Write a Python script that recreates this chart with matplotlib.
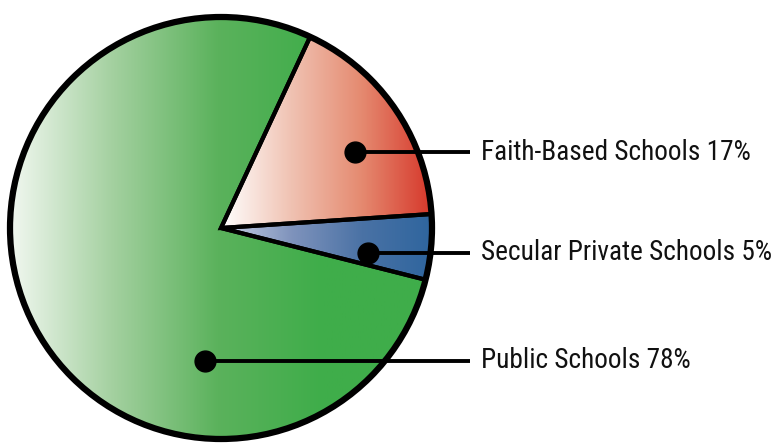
import numpy as np
import matplotlib
matplotlib.use("Agg")
import matplotlib.pyplot as plt
from matplotlib.colors import LinearSegmentedColormap
from matplotlib import font_manager
from matplotlib.font_manager import FontProperties

categories = ["Faith-Based Schools", "Secular Private Schools", "Public Schools"]
values = [17, 5, 78]

# gradient colours (left -> right) per slice
grad_colors = [
    ["#ffffff", "#f0c2b2", "#e58a70", "#d6372a"],
    ["#c9d1e6", "#7f93bc", "#4a72a5", "#2e659e"],
    ["#f2f8f1", "#a3d09f", "#5bb25c", "#3fad4a", "#3fad4a"],
]


def pick_condensed_font():
    prefs = ["Roboto Condensed", "Liberation Sans Narrow", "Archivo Narrow",
             "Fira Sans Condensed", "IBM Plex Sans Condensed", "Barlow Condensed",
             "Noto Sans", "Open Sans", "DejaVu Sans"]
    cands = []
    for f in font_manager.fontManager.ttflist:
        st = str(f.stretch)
        if st in ("condensed", "semi-condensed", "semi-expanded") or "Condensed" in f.name or "Narrow" in f.name:
            if f.style == "normal" and f.weight in (400, "normal", "regular"):
                cands.append(f)
    for p in prefs:
        for f in cands:
            if f.name == p and ("condensed" in str(f.stretch) or "Condensed" in f.name or "Narrow" in f.name):
                return FontProperties(fname=f.fname)
    for f in cands:
        if "Sans" in f.name:
            return FontProperties(fname=f.fname)
    if cands:
        return FontProperties(fname=cands[0].fname)
    return FontProperties(family="DejaVu Sans")


fp = pick_condensed_font()

W, H = 778, 445
fig = plt.figure(figsize=(W / 100, H / 100), dpi=100)
ax = fig.add_axes([0, 0, 1, 1])
ax.set_xlim(0, W)
ax.set_ylim(0, H)

cx, cy, R = 221, 445 - 228, 211

wedges, _ = ax.pie(values, center=(cx, cy), radius=R, startangle=65,
                   counterclock=False,
                   wedgeprops=dict(facecolor="none", edgecolor="black",
                                   linewidth=3.0, joinstyle="miter"))
ax.set_xlim(0, W)
ax.set_ylim(0, H)
ax.set_aspect("auto")

for w, cols in zip(wedges, grad_colors):
    path = w.get_path()
    verts = w.get_transform().transform(path.vertices)
    verts = ax.transData.inverted().transform(verts)
    x0, x1 = verts[:, 0].min(), verts[:, 0].max()
    y0, y1 = verts[:, 1].min(), verts[:, 1].max()
    cmap = LinearSegmentedColormap.from_list("g", cols)
    grad = np.linspace(0, 1, 256).reshape(1, -1)
    im = ax.imshow(grad, cmap=cmap, extent=(x0, x1, y0, y1), origin="lower",
                   aspect="auto", zorder=0.5, interpolation="bilinear")
    im.set_clip_path(w)
    w.set_zorder(2)

circle = plt.Circle((cx, cy), R, facecolor="none", edgecolor="black",
                    linewidth=4.5, zorder=3)
ax.add_patch(circle)

# label anchors (pixel positions)
dots = [(355, 152), (368, 253), (205, 361)]
line_end = 470
text_x = 481

texts = []
for (px, py), name, v in zip(dots, categories, values):
    y = H - py
    ax.plot([px, line_end], [y, y], color="black", lw=2.8, zorder=4,
            solid_capstyle="butt")
    ax.plot([px], [y], marker="o", markersize=15, color="black", zorder=5)
    t = ax.text(text_x, y, f"{name} {v}%", fontproperties=fp, fontsize=18,
                va="center", ha="left", color="#111111")
    texts.append(t)

# fit size so that the widest label spans the same width as in the reference
fig.canvas.draw()
r = fig.canvas.get_renderer()
wmax = texts[1].get_window_extent(r).width
target = 772 - 481
scale = target / wmax
size = min(18 * scale, 21)
for t in texts:
    t.set_fontsize(size)

ax.axis("off")
fig.savefig("out.png", dpi=100, facecolor="white")
